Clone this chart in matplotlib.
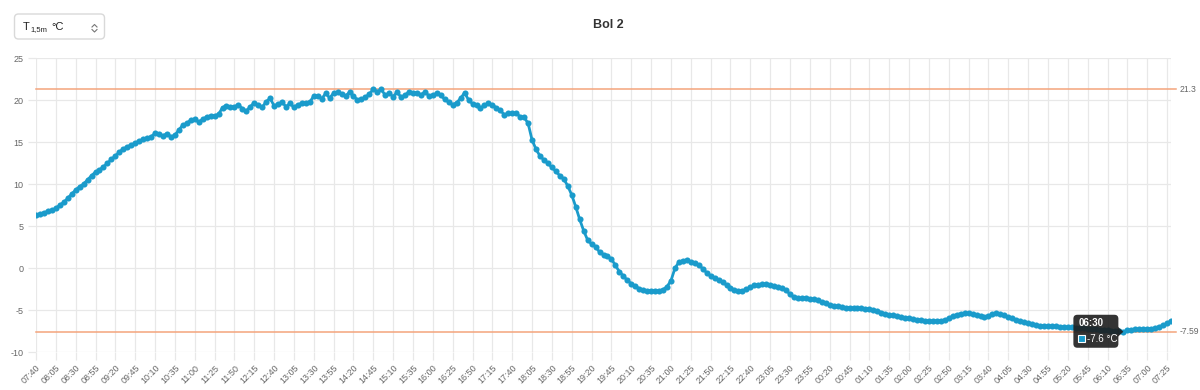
import matplotlib
matplotlib.use("Agg")
import matplotlib.pyplot as plt
from matplotlib.patches import FancyBboxPatch, Rectangle, Polygon
from matplotlib.lines import Line2D
from matplotlib.transforms import IdentityTransform
import numpy as np
import pandas as pd

# ---------------- data ----------------
start_time = "2024-01-01 07:40"
step = "5min"
temps = [
    6.31, 6.43, 6.59, 6.75, 6.9, 7.1, 7.5, 7.82, 8.3, 8.81,
    9.29, 9.7, 10.0, 10.5, 11.0, 11.43, 11.67, 12.06, 12.46, 12.94,
    13.33, 13.81, 14.17, 14.44, 14.64, 14.88, 15.12, 15.32, 15.44, 15.63,
    16.03, 15.9, 15.75, 16.0, 15.63, 15.8, 16.43, 17.02, 17.22, 17.62,
    17.7, 17.38, 17.7, 18.0, 18.1, 18.14, 18.3, 19.1, 19.3, 19.2,
    19.2, 19.44, 18.96, 18.7, 19.2, 19.68, 19.4, 19.13, 19.8, 20.2,
    19.3, 19.52, 19.76, 19.2, 19.6, 19.13, 19.44, 19.6, 19.68, 19.76,
    20.48, 20.51, 20.16, 20.79, 20.24, 20.83, 20.95, 20.75, 20.44, 20.95,
    20.48, 20.0, 20.08, 20.32, 20.71, 21.3, 20.99, 21.27, 20.56, 20.79,
    20.4, 20.95, 20.32, 20.56, 20.99, 20.87, 20.87, 20.63, 20.95, 20.51,
    20.59, 20.79, 20.56, 20.08, 19.76, 19.44, 19.68, 20.2, 20.87, 20.0,
    19.56, 19.4, 19.05, 19.37, 19.6, 19.44, 19.05, 18.77, 18.25, 18.41,
    18.41, 18.41, 18.02, 17.94, 17.22, 15.24, 14.13, 13.33, 12.86, 12.46,
    11.98, 11.51, 10.99, 10.6, 9.76, 8.69, 7.3, 5.79, 4.44, 3.33,
    2.86, 2.54, 1.9, 1.59, 1.39, 1.07, 0.32, -0.44, -0.95, -1.47,
    -1.87, -2.14, -2.46, -2.66, -2.7, -2.7, -2.7, -2.7, -2.58, -2.22,
    -1.51, -0.04, 0.71, 0.87, 0.95, 0.71, 0.56, 0.36, -0.08, -0.56,
    -0.95, -1.23, -1.43, -1.67, -2.02, -2.34, -2.62, -2.78, -2.7, -2.54,
    -2.26, -2.06, -1.98, -1.94, -1.9, -1.98, -2.1, -2.22, -2.38, -2.62,
    -3.13, -3.49, -3.61, -3.61, -3.53, -3.69, -3.73, -3.81, -4.01, -4.21,
    -4.37, -4.48, -4.56, -4.64, -4.72, -4.72, -4.76, -4.8, -4.8, -4.84,
    -4.88, -4.98, -5.1, -5.3, -5.45, -5.58, -5.63, -5.71, -5.83, -5.91,
    -5.99, -6.07, -6.15, -6.19, -6.27, -6.31, -6.31, -6.31, -6.27, -6.19,
    -5.99, -5.71, -5.56, -5.44, -5.4, -5.4, -5.48, -5.56, -5.71, -5.87,
    -5.71, -5.48, -5.4, -5.48, -5.63, -5.83, -5.99, -6.15, -6.31, -6.47,
    -6.59, -6.71, -6.79, -6.87, -6.9, -6.9, -6.9, -6.94, -6.98, -7.02,
    -7.02, -7.06, -7.1, -7.14, -7.18, -7.22, -7.25, -7.3, -7.33, -7.37,
    -7.4, -7.45, -7.5, -7.55, -7.59, -7.42, -7.34, -7.3, -7.3, -7.26,
    -7.26, -7.22, -7.14, -6.98, -6.83, -6.59, -6.27,
]
times = pd.date_range(start_time, periods=len(temps), freq=step).strftime("%H:%M").tolist()
label_every = 5
y_ticks = [-10, -5, 0, 5, 10, 15, 20, 25]
title = "Bol 2"
unit = "°C"
selector_main = "T"
selector_sub = "1,5m"
tooltip_time = "06:30"

# ---------------- style ----------------
plt.rcParams["font.family"] = ["Liberation Sans", "DejaVu Sans"]
plt.rcParams["axes.unicode_minus"] = False
line_color = "#1a9bcb"
ref_color = "#f4a47c"
grid_color = "#e8e8e8"
text_color = "#666666"
tick_fs = 6.5

W, H = 1200, 390
fig = plt.figure(figsize=(W / 100, H / 100), dpi=100)
fig.patch.set_facecolor("white")
ax = fig.add_axes([36 / W, 1 - 352 / H, (1171 - 36) / W, (352 - 58) / H])

x = np.arange(len(temps))
ax.plot(x, temps, color=line_color, lw=2, marker="o", ms=4.4,
        markeredgewidth=0, zorder=3)

ax.set_xlim(0, len(temps) - 1)
ax.set_ylim(min(y_ticks), max(y_ticks))
ax.set_yticks(y_ticks)
ax.set_xticks(x[::label_every])
ax.set_xticklabels(times[::label_every], rotation=45, ha="right",
                   rotation_mode="anchor")
ax.grid(color=grid_color, lw=0.9, zorder=0)
ax.axvline(len(temps) - 1, color=grid_color, lw=0.9, zorder=0)
for s in ax.spines.values():
    s.set_visible(False)
ax.tick_params(axis="both", length=6, width=0.9, color=grid_color,
               labelcolor=text_color, labelsize=tick_fs, pad=3)
ax.tick_params(axis="x", pad=2)

# reference lines for max / min
vmax, vmin = max(temps), min(temps)
ytr = ax.get_yaxis_transform()
ax_w = (1171 - 36)
for v in (vmax, vmin):
    ax.plot([0, 1 + 5 / ax_w], [v, v], color=ref_color, lw=1.1,
            transform=ytr, clip_on=False, zorder=2)
    ax.text(1 + 8.5 / ax_w, v, f"{v:g}", transform=ytr, va="center",
            ha="left", fontsize=6.2, color=text_color)

# title
fig.text(608 / W, 1 - 25 / H, title, ha="center", va="center",
         fontsize=9, fontweight="bold", color="#333333")

# selector box (top-left)
ident = IdentityTransform()
fig.add_artist(FancyBboxPatch((14.5, H - 39), 90, 25,
                              boxstyle="round,pad=0,rounding_size=4",
                              transform=ident, facecolor="white",
                              edgecolor="#d9d9d9", lw=1))
fig.text(23 / W, 1 - 27 / H, selector_main, ha="left", va="center",
         fontsize=8, color="#222222")
fig.text(30 / W, 1 - 29.5 / H, selector_sub, ha="left", va="center",
         fontsize=5.5, color="#222222")
fig.text(51 / W, 1 - 27 / H, unit, ha="left", va="center",
         fontsize=8, color="#222222")
for pts in ([(92, 27), (94.5, 24.5), (97, 27)],
            [(92, 29.5), (94.5, 32), (97, 29.5)]):
    fig.add_artist(Line2D([p[0] for p in pts], [H - p[1] for p in pts],
                          transform=ident, color="#777777", lw=0.8))

# tooltip
idx = times.index(tooltip_time)
px, py = ax.transData.transform((idx, temps[idx]))
bx0, bx1 = px - 50, px - 5
by0, by1 = py - 16, py + 17
fig.add_artist(FancyBboxPatch((bx0, by0), bx1 - bx0, by1 - by0,
                              boxstyle="round,pad=0,rounding_size=4",
                              transform=ident, facecolor="#1e1e1e",
                              edgecolor="none", alpha=0.9, zorder=10))
fig.add_artist(Polygon([(bx1 - 0.5, py - 5), (px, py), (bx1 - 0.5, py + 5)],
                       closed=True, transform=ident, facecolor="#1e1e1e",
                       edgecolor="none", alpha=0.9, zorder=10))
fig.text((bx0 + 5) / W, (py + 8.5) / H, tooltip_time, ha="left",
         va="center", fontsize=7, fontweight="bold", color="white",
         zorder=11)
fig.add_artist(Rectangle((bx0 + 5, py - 10.5), 7, 7, transform=ident,
                         facecolor=line_color, edgecolor="white", lw=0.8,
                         zorder=11))
fig.text((bx0 + 14) / W, (py - 7) / H, f"{round(temps[idx], 1)} {unit}",
         ha="left", va="center", fontsize=7, color="white", zorder=11)

fig.savefig("out.png", dpi=100, facecolor="white")
